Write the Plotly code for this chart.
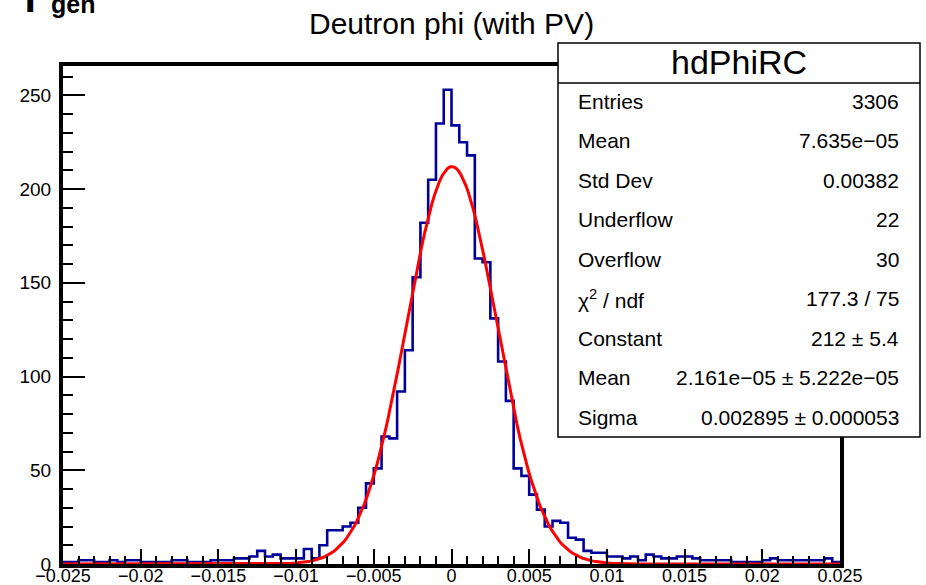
import math
import plotly.graph_objects as go

# ---------------- data ----------------
x_min = -0.025
x_max = 0.025
bin_width = 0.0005

bin_counts = [
    1, 1, 2, 2, 1, 1, 2, 1, 2, 2,        # -0.0250 .. -0.0205
    1, 1, 1, 1, 2, 2, 1, 1, 1, 2,        # -0.0200 .. -0.0155
    2, 2, 3, 3, 4, 7, 4, 5, 3, 3,        # -0.0150 .. -0.0105
    3, 8, 3, 10, 18, 18, 20, 22, 30, 43,  # -0.0100 .. -0.0055
    51, 68, 67, 92, 114, 153, 182, 205, 235, 253,  # -0.0050 .. -0.0005
    234, 225, 218, 163, 161, 131, 108, 87, 51, 47,  # 0.0000 .. 0.0045
    37, 29, 20, 23, 22, 14, 13, 7, 6, 6,  # 0.0050 .. 0.0095
    4, 4, 3, 4, 2, 5, 4, 3, 3, 4,        # 0.0100 .. 0.0145
    4, 3, 2, 2, 2, 2, 1, 1, 1, 1,        # 0.0150 .. 0.0195
    2, 3, 2, 2, 2, 2, 2, 2, 3, 1,        # 0.0200 .. 0.0245
]

# Gaussian fit parameters (from the stats box)
fit_constant = 212.0
fit_mean = 2.161e-05
fit_sigma = 0.002895

x_tick_values = [-0.025, -0.02, -0.015, -0.01, -0.005, 0, 0.005, 0.01, 0.015, 0.02, 0.025]
x_tick_labels = ["\u22120.025", "\u22120.02", "\u22120.015", "\u22120.01", "\u22120.005", "0",
                 "0.005", "0.01", "0.015", "0.02", "0.025"]
y_tick_values = [0, 50, 100, 150, 200, 250]
y_tick_labels = ["0", "50", "100", "150", "200", "250"]

title_text = "Deutron phi (with PV)"
stats_title = "hdPhiRC"
stats_names = ["Entries", "Mean", "Std Dev", "Underflow", "Overflow",
               "\u03c7<sup>2</sup> / ndf", "Constant", "Mean", "Sigma"]
stats_values = ["3306", "7.635e\u221205", "0.00382", "22", "30", "177.3 / 75",
                "212 \u00b1 5.4", "2.161e\u221205 \u00b1 5.222e\u221205", "0.002895 \u00b1 0.000053"]

# ---------------- layout geometry ----------------
W, H = 926, 585
L, R, T, B = 63, 840, 66, 564   # plot frame in pixels

def px(xpix):
    return (xpix - L) / (R - L)

def py(ypix):
    return (B - ypix) / (B - T)

# ---------------- traces ----------------
n_bins = len(bin_counts)
edges = [x_min + i * bin_width for i in range(n_bins + 1)]
step_x = [edges[0]] + edges
step_y = [0] + bin_counts + [bin_counts[-1]]

fig = go.Figure()
fig.add_trace(go.Scatter(
    x=step_x, y=step_y, mode="lines", line_shape="hv",
    line=dict(color="#000099", width=2.6), hoverinfo="skip", showlegend=False,
))

n_fit = 300
fit_x = [x_min + (x_max - x_min) * i / (n_fit - 1) for i in range(n_fit)]
fit_y = [fit_constant * math.exp(-0.5 * ((xv - fit_mean) / fit_sigma) ** 2) for xv in fit_x]
fig.add_trace(go.Scatter(
    x=fit_x, y=fit_y, mode="lines",
    line=dict(color="#ff0000", width=3), hoverinfo="skip", showlegend=False,
))

y_top = 1.05 * max(bin_counts)

fig.update_layout(
    width=W, height=H, autosize=False,
    margin=dict(l=L, r=W - R, t=T, b=H - B, pad=0, autoexpand=False),
    paper_bgcolor="white", plot_bgcolor="white",
    font=dict(family="Liberation Sans, Arial, Helvetica, sans-serif", color="black"),
    showlegend=False,
    xaxis=dict(
        range=[x_min, x_max], showgrid=False, zeroline=False, automargin=False,
        showline=True, linecolor="black", linewidth=4, mirror=True,
        ticks="inside", ticklen=15, tickwidth=1.5, tickcolor="black",
        tickvals=x_tick_values, ticktext=x_tick_labels,
        tickfont=dict(size=18), ticklabelstandoff=-8,
        minor=dict(ticks="inside", ticklen=8, tickwidth=1.5, tickcolor="black", dtick=0.001, showgrid=False),
    ),
    yaxis=dict(
        range=[0, y_top], showgrid=False, zeroline=False, automargin=False,
        showline=True, linecolor="black", linewidth=4, mirror=True,
        ticks="inside", ticklen=22, tickwidth=1.5, tickcolor="black",
        tickvals=y_tick_values, ticktext=y_tick_labels,
        tickfont=dict(size=19), ticklabelstandoff=4,
        minor=dict(ticks="inside", ticklen=10, tickwidth=1.5, tickcolor="black", dtick=10, showgrid=False),
    ),
)

# title
fig.add_annotation(x=px(452), y=py(23), xref="paper", yref="paper", text=title_text,
                   showarrow=False, font=dict(size=30), xanchor="center", yanchor="middle")

# cut-off text at top-left
fig.add_annotation(x=px(49), y=py(4), xref="paper", yref="paper", text="<b>gen</b>",
                   showarrow=False, font=dict(size=25), xanchor="left", yanchor="middle")
fig.add_annotation(x=px(30), y=py(-2), xref="paper", yref="paper", text="<b>T</b>",
                   showarrow=False, font=dict(size=40), xanchor="center", yanchor="middle")

# stats box
box_l, box_r, box_t, box_b, box_sep = 558, 920, 43, 437, 83
fig.add_shape(type="rect", xref="paper", yref="paper", x0=px(box_l), x1=px(box_r),
              y0=py(box_b), y1=py(box_t), line=dict(color="black", width=1.5),
              fillcolor="white", layer="above")
fig.add_shape(type="line", xref="paper", yref="paper", x0=px(box_l), x1=px(box_r),
              y0=py(box_sep), y1=py(box_sep), line=dict(color="black", width=1.5), layer="above")
fig.add_annotation(x=px((box_l + box_r) / 2), y=py(62), xref="paper", yref="paper",
                   text=stats_title, showarrow=False, font=dict(size=34),
                   xanchor="center", yanchor="middle")
row_y0, row_dy = 101, 39.5
for i, (name, val) in enumerate(zip(stats_names, stats_values)):
    yy = row_y0 + i * row_dy
    fig.add_annotation(x=px(576), y=py(yy), xref="paper", yref="paper", text=name,
                       showarrow=False, font=dict(size=21), xanchor="left", yanchor="middle")
    fig.add_annotation(x=px(901), y=py(yy), xref="paper", yref="paper", text=val,
                       showarrow=False, font=dict(size=21), xanchor="right", yanchor="middle")

fig.write_html("out.html", config={"displayModeBar": False},
               post_script="document.body.style.margin='0';document.body.style.overflow='hidden';")
